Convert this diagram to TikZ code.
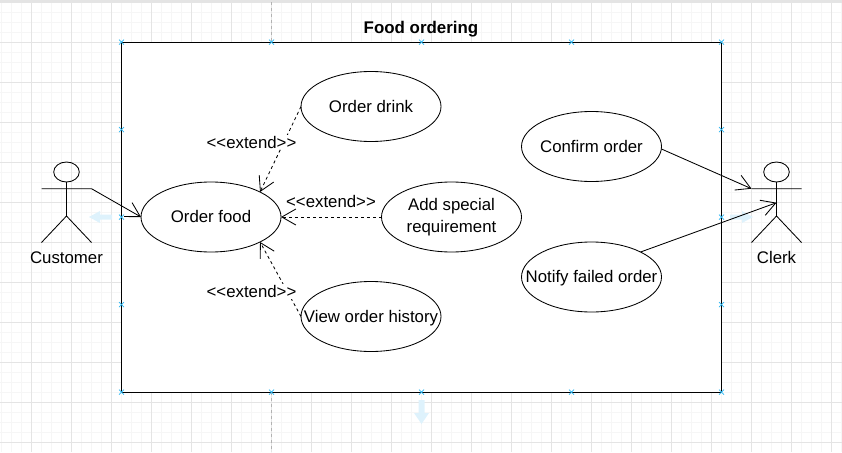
\documentclass[tikz,border=0pt]{standalone}
\usepackage{fontspec}
\setmainfont{Liberation Sans}
\usetikzlibrary{arrows.meta,shapes.geometric,positioning}
\definecolor{gridminor}{RGB}{246,246,246}
\definecolor{gridmajor}{RGB}{228,228,228}
\definecolor{handle}{RGB}{41,182,242}
\definecolor{hint}{RGB}{222,242,252}
\newcommand{\uctext}[1]{\makebox[0pt]{\raisebox{0pt}[11.6pt][0pt]{#1}}}
\newcommand{\extendtext}{<{}<extend>{}>}

\begin{document}
\begin{tikzpicture}[x=1pt,y=-1pt,outer sep=0pt,inner sep=0pt]
    \tikzset{usecase/.style={shape=ellipse,align=center,minimum width=140pt,minimum height=70pt,draw,line width=.85pt,font=\fontsize{16.8}{22}\selectfont}}
    \tikzset{actorlabel/.style={font=\fontsize{16.8}{20}\selectfont}}
    \tikzset{extendlabel/.style={fill=white,inner sep=1pt,font=\fontsize{16.8}{20}\selectfont}}
    \tikzset{barb/.style={line width=.85pt,-{Straight Barb[length=14pt,width=16pt]}}}
    \tikzset{extendline/.style={barb,dashed,dash pattern=on 3pt off 3pt}}
    \tikzset{hintarrow/.style={draw=none,fill=hint}}
    \useasboundingbox (0,0) rectangle (842,452);

    % background grid
    \foreach \gx in {1.5,11.5,...,841.5} {\draw[gridminor,line width=1pt] (\gx,0) -- (\gx,452);}
    \foreach \gy in {2.5,12.5,...,452} {\draw[gridminor,line width=1pt] (0,\gy) -- (842,\gy);}
    \foreach \gx in {31.5,71.5,...,841.5} {\draw[gridmajor,line width=1pt] (\gx,0) -- (\gx,452);}
    \foreach \gy in {2.5,42.5,...,452} {\draw[gridmajor,line width=1pt] (0,\gy) -- (842,\gy);}
    \fill[gridmajor] (0,0) rectangle (842,2);
    \draw[gray!60,dashed,line width=.7pt] (271.5,2) -- (271.5,452);

    % system box
    \node [draw=black,fill=white,line width=1.2pt,minimum width=600pt,minimum height=350pt] (system) at (421.5,217.2) {};
    \node [font=\bfseries\fontsize{16.9}{20}\selectfont] (title) at (421,29) {Food ordering};
    \foreach \hx in {121.5,271.5,421.5,571.5,721.5} {
        \foreach \hy in {42.2,392.2} {\draw[handle,line width=.7pt] (\hx-2.5,\hy-2.5) -- (\hx+2.5,\hy+2.5) (\hx-2.5,\hy+2.5) -- (\hx+2.5,\hy-2.5);}
    }
    \foreach \hx in {121.5,721.5} {
        \foreach \hy in {129.7,217.2,304.7} {\draw[handle,line width=.7pt] (\hx-2.5,\hy-2.5) -- (\hx+2.5,\hy+2.5) (\hx-2.5,\hy+2.5) -- (\hx+2.5,\hy-2.5);}
    }

    % faint drop hints
    \fill[hintarrow] (112,214.5) -- (100,214.5) -- (100,211) -- (89,217) -- (100,223) -- (100,219.5) -- (112,219.5) -- cycle;
    \fill[hintarrow] (418.5,400) -- (424.5,400) -- (424.5,413) -- (429,413) -- (421.5,424) -- (414,413) -- (418.5,413) -- cycle;
    \fill[hintarrow] (730,214.5) -- (742,214.5) -- (742,211) -- (753,217) -- (742,223) -- (742,219.5) -- (730,219.5) -- cycle;

    % use cases
    \node [usecase] (orderfood) at (211,217) {\uctext{Order food}};
    \node [usecase] (orderdrink) at (371,106.5) {\uctext{Order drink}};
    \node [usecase] (special) at (451.5,217) {Add special\\requirement};
    \node [usecase] (history) at (371,316.5) {\uctext{View order history}};
    \node [usecase] (confirm) at (591.5,146.5) {\uctext{Confirm order}};
    \node [usecase] (notify) at (591.5,277) {\uctext{Notify failed order}};

    % actors
    \foreach \actor/\ax/\aname in {customer/66.5/Customer,clerk/776.5/Clerk} {
        \draw[line width=.85pt] (\ax,172) ellipse (12.8pt and 10pt);
        \draw[line width=.85pt] (\ax,182) -- (\ax,216) (\ax-25,188.7) -- (\ax+25,188.7) (\ax-25,242.5) -- (\ax,216) -- (\ax+25,242.5);
        \coordinate (\actor-arm-l) at (\ax-25,188.7);
        \coordinate (\actor-arm-r) at (\ax+25,188.7);
        \coordinate (\actor-body) at (\ax,202.7);
        \node [actorlabel] (\actor-label) at (\ax,257.5) {\uctext{\aname}};
    }

    % connectors
    \draw[barb] (customer-arm-r) -- (orderfood.west);
    \draw[barb] (confirm.-2) -- (clerk-arm-l);
    \draw[barb] (notify.27) -- (clerk-body);
    \draw[extendline] (orderdrink.west) -- (orderfood.27);
    \draw[extendline] (special.west) -- (orderfood.east);
    \draw[extendline] (history.west) -- (orderfood.-27);
    \node [extendlabel] (extend-drink) at (251.5,142) {\extendtext};
    \node [extendlabel,fill=none] (extend-special) at (331,201.5) {\extendtext};
    \node [extendlabel] (extend-history) at (251.5,291.5) {\extendtext};
\end{tikzpicture}
\end{document}
